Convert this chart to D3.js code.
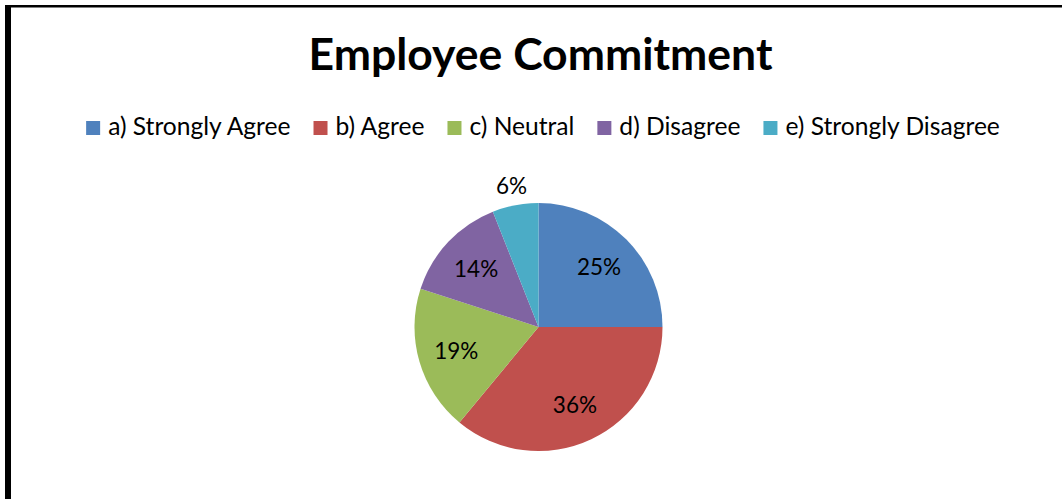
<!DOCTYPE html>
<html>
<head>
<meta charset="utf-8">
<script src="https://cdn.jsdelivr.net/npm/d3@7/dist/d3.min.js"></script>
<style>
  html, body { margin: 0; padding: 0; background: #fff; }
  svg { display: block; }
  text { font-family: Lato, "Open Sans", "DejaVu Sans", sans-serif; fill: #000; }
</style>
</head>
<body>
<svg id="chart" width="1062" height="499"></svg>
<script>
// Survey responses: employee commitment
const categories = ["a) Strongly Agree", "b) Agree", "c) Neutral", "d) Disagree", "e) Strongly Disagree"];
const percentages = [25, 36, 19, 14, 6];
const colors = ["#4F81BD", "#C0504D", "#9BBB59", "#8064A2", "#4BACC6"];
const title = "Employee Commitment";

const W = 1062, H = 499;
const svg = d3.select("#chart");

// Chart frame
svg.append("rect").attr("x", 0).attr("y", 0).attr("width", W).attr("height", H).attr("fill", "#fff");
svg.append("rect").attr("x", 5).attr("y", 5).attr("width", 6).attr("height", H - 5).attr("fill", "#000");
svg.append("rect").attr("x", 5).attr("y", 5).attr("width", W - 5).attr("height", 2.5).attr("fill", "#000");

// Title
svg.append("text")
  .attr("x", 540.5).attr("y", 70)
  .attr("text-anchor", "middle")
  .style("font-size", "44.5px").style("font-weight", "bold")
  .text(title);

// Legend, laid out left to right and centred
const color = d3.scaleOrdinal().domain(categories).range(colors);
const legend = svg.append("g");
const sw = 14, swGap = 8, itemGap = 23;
const items = legend.selectAll("g").data(categories).join("g");
items.append("rect").attr("width", sw).attr("height", sw).attr("y", 121).attr("fill", d => color(d));
items.append("text").attr("x", sw + swGap).attr("y", 135).style("font-size", "24.6px").text(d => d);
let cx = 0;
items.each(function () {
  const g = d3.select(this);
  const w = g.select("text").node().getComputedTextLength();
  g.attr("transform", `translate(${cx},0)`);
  cx += sw + swGap + w + itemGap;
});
const legendW = cx - itemGap;
legend.attr("transform", `translate(${543 - legendW / 2},0)`);

// Pie, starting at 12 o'clock and running clockwise
const center = [538.5, 327], R = 124;
const pie = d3.pie().sort(null).value(d => d.v);
const data = pie(categories.map((c, i) => ({ c, v: percentages[i] })));
const arc = d3.arc().innerRadius(0).outerRadius(R);
const inner = d3.arc().innerRadius(R * 0.69).outerRadius(R * 0.69);
const outer = d3.arc().innerRadius(R + 20).outerRadius(R + 20);

const pg = svg.append("g").attr("transform", `translate(${center[0]},${center[1]})`);
pg.selectAll("path").data(data).join("path")
  .attr("d", arc)
  .attr("fill", d => color(d.data.c));

pg.selectAll("text").data(data).join("text")
  .attr("transform", d => `translate(${(d.data.v < 10 ? outer : inner).centroid(d)})`)
  .attr("text-anchor", "middle")
  .attr("dy", "0.36em")
  .style("font-size", "22.5px")
  .text(d => d.data.v + "%");
</script>
</body>
</html>
